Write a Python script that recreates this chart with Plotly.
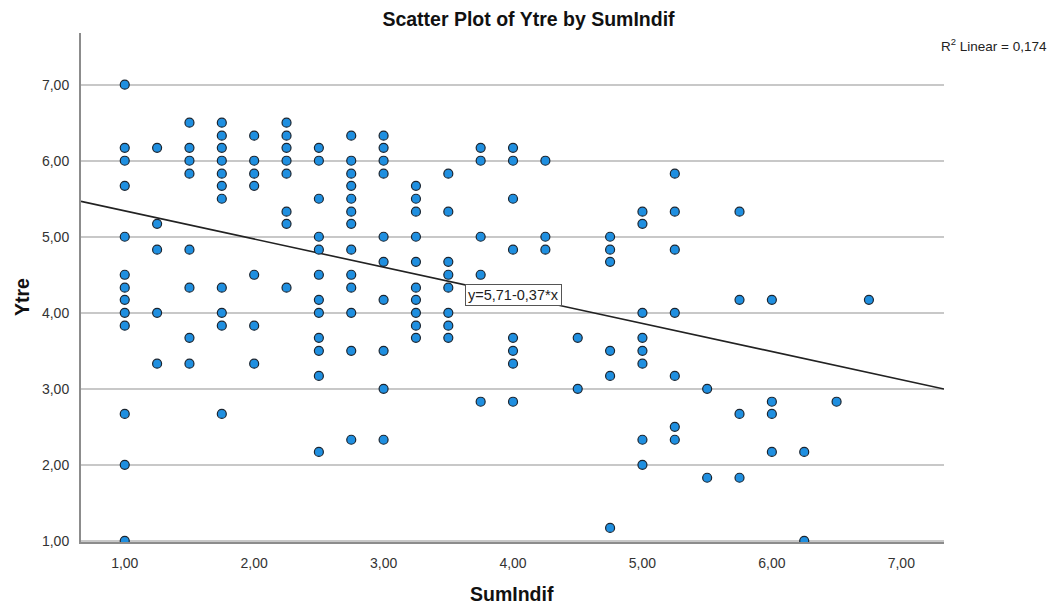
import plotly.graph_objects as go

# SumIndif value per column and the Ytre values observed at that SumIndif
sumindif_levels = [1.00, 1.25, 1.50, 1.75, 2.00, 2.25, 2.50, 2.75, 3.00, 3.25,
                   3.50, 3.75, 4.00, 4.25, 4.50, 4.75, 5.00, 5.25, 5.50, 5.75,
                   6.00, 6.25, 6.50, 6.75]
ytre_by_level = [
    [7.00, 6.17, 6.00, 5.67, 5.00, 4.50, 4.33, 4.17, 4.00, 3.83, 2.67, 2.00, 1.00],
    [6.17, 5.17, 4.83, 4.00, 3.33],
    [6.50, 6.17, 6.00, 5.83, 4.83, 4.33, 3.67, 3.33],
    [6.50, 6.33, 6.17, 6.00, 5.83, 5.67, 5.50, 4.33, 4.00, 3.83, 2.67],
    [6.33, 6.00, 5.83, 5.67, 4.50, 3.83, 3.33],
    [6.50, 6.33, 6.17, 6.00, 5.83, 5.33, 5.17, 4.33],
    [6.17, 6.00, 5.50, 5.00, 4.83, 4.50, 4.17, 4.00, 3.67, 3.50, 3.17, 2.17],
    [6.33, 6.00, 5.83, 5.67, 5.50, 5.33, 5.17, 4.83, 4.50, 4.33, 4.00, 3.50, 2.33],
    [6.33, 6.17, 6.00, 5.83, 5.00, 4.67, 4.17, 3.50, 3.00, 2.33],
    [5.67, 5.50, 5.33, 5.00, 4.67, 4.33, 4.17, 4.00, 3.83, 3.67],
    [5.83, 5.33, 4.67, 4.50, 4.33, 4.00, 3.83, 3.67],
    [6.17, 6.00, 5.00, 4.50, 2.83],
    [6.17, 6.00, 5.50, 4.83, 3.67, 3.50, 3.33, 2.83],
    [6.00, 5.00, 4.83],
    [3.67, 3.00],
    [5.00, 4.83, 4.67, 3.50, 3.17, 1.17],
    [5.33, 5.17, 4.00, 3.67, 3.50, 3.33, 2.33, 2.00],
    [5.83, 5.33, 4.83, 4.00, 3.17, 2.50, 2.33],
    [3.00, 1.83],
    [5.33, 4.17, 2.67, 1.83],
    [4.17, 2.83, 2.67, 2.17],
    [2.17, 1.00],
    [2.83],
    [4.17],
]

# Fitted linear model as reported
intercept = 5.71
slope = -0.37
r_squared_text = "0,174"

tick_values = [1, 2, 3, 4, 5, 6, 7]
tick_labels = ["1,00", "2,00", "3,00", "4,00", "5,00", "6,00", "7,00"]

x_range = [0.662, 7.33]
y_range = [0.985, 7.68]

W, H = 1057, 609
M_L, M_R, M_T, M_B = 81, 113, 33, 67
plot_w = W - M_L - M_R
plot_h = H - M_T - M_B


def px_to_paper(px, py):
    """Convert figure pixel position to paper coordinates."""
    return (px - M_L) / plot_w, (H - M_B - py) / plot_h


xs, ys = [], []
for lvl, vals in zip(sumindif_levels, ytre_by_level):
    for v in vals:
        xs.append(lvl)
        ys.append(v)

FONT = "Liberation Sans, Arial, sans-serif"

fig = go.Figure()

fig.add_trace(go.Scatter(
    x=[x_range[0], x_range[1]],
    y=[intercept + slope * x_range[0], intercept + slope * x_range[1]],
    mode="lines",
    line=dict(color="#222222", width=1.6),
    hoverinfo="skip",
    showlegend=False,
))

fig.add_trace(go.Scatter(
    x=xs, y=ys,
    mode="markers",
    marker=dict(size=9, color="#1F8FE0", line=dict(color="#1b2530", width=1.2)),
    showlegend=False,
))

axis_font = dict(family=FONT, size=14, color="#333333")

xt_x, xt_y = px_to_paper(512, 594)
yt_x, yt_y = px_to_paper(22, 297)
r2_x, r2_y = px_to_paper(1049, 45)

fig.update_layout(
    width=W, height=H,
    margin=dict(l=M_L, r=M_R, t=M_T, b=M_B),
    paper_bgcolor="white",
    plot_bgcolor="white",
    title=dict(
        text="<b>Scatter Plot of Ytre by SumIndif</b>",
        x=0.5, xanchor="center", y=1 - 19 / H, yanchor="middle",
        font=dict(family=FONT, size=19.5, color="#111111"),
    ),
    xaxis=dict(
        range=x_range,
        tickvals=tick_values, ticktext=tick_labels,
        showgrid=False, zeroline=False,
        showline=True, linecolor="#8c8c8c", linewidth=2,
        ticks="", tickfont=axis_font, ticklabelstandoff=7,
        automargin=False,
    ),
    yaxis=dict(
        range=y_range,
        tickvals=tick_values, ticktext=tick_labels,
        showgrid=True, gridcolor="#c8c8c8", gridwidth=1.5,
        zeroline=False,
        showline=True, linecolor="#8c8c8c", linewidth=2,
        ticks="", tickfont=axis_font, ticklabelstandoff=7,
        automargin=False,
    ),
    annotations=[
        dict(
            x=4.00, y=4.236, xref="x", yref="y",
            text="y=5,71-0,37*x", showarrow=False,
            font=dict(family=FONT, size=14.5, color="#222222"),
            bgcolor="white", bordercolor="#555555", borderwidth=1, borderpad=2,
        ),
        dict(
            x=r2_x, y=r2_y, xref="paper", yref="paper",
            text="R<sup>2</sup> Linear = " + r_squared_text, showarrow=False,
            font=dict(family=FONT, size=13.5, color="#222222"),
            xanchor="right", yanchor="middle",
        ),
        dict(
            x=xt_x, y=xt_y, xref="paper", yref="paper",
            text="<b>SumIndif</b>", showarrow=False,
            font=dict(family=FONT, size=19.5, color="#111111"),
            xanchor="center", yanchor="middle",
        ),
        dict(
            x=yt_x, y=yt_y, xref="paper", yref="paper",
            text="<b>Ytre</b>", showarrow=False, textangle=-90,
            font=dict(family=FONT, size=19.5, color="#111111"),
            xanchor="center", yanchor="middle",
        ),
    ],
)

fig.write_html("out.html")
